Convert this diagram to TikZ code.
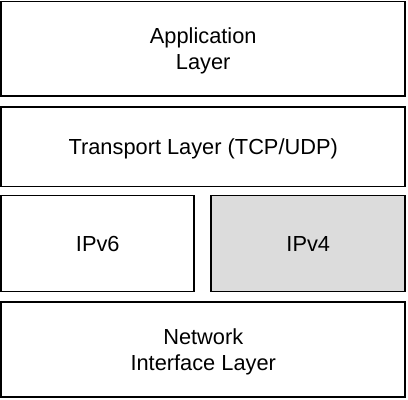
\documentclass[tikz,border=0pt]{standalone}
\usepackage{fontspec}
\setmainfont{Liberation Sans}
\usepackage{tikz}
\usetikzlibrary{positioning}
\definecolor{myline}{RGB}{0,0,0}
\definecolor{hdrgray}{RGB}{220,220,220}
\tikzset{
  layer/.style={rectangle, draw=myline, fill=white, line width=1.4pt,
    align=center, font=\fontsize{15.5}{18.5}\selectfont, inner sep=0pt,
    text depth=0pt},
  graylayer/.style={layer, fill=hdrgray}
}
\begin{document}
\begin{tikzpicture}[x=0.025cm, y=-0.025cm]
  \useasboundingbox (0,0) rectangle (408,400);

  % Upper layers
  \node[layer, minimum width=10.0875cm, minimum height=2.3625cm] (app) at (203.25, 48.75) {Application\\Layer};
  \node[layer, minimum width=10.0875cm, minimum height=1.9875cm] (transport) at (203.25, 146.75) {Transport Layer (TCP/UDP)};

  % Internet layer
  \node[layer, minimum width=4.8125cm, minimum height=2.4cm, text height=1.1em] (ipv6) at (97.75, 243.5) {IPv6};
  \node[graylayer, minimum width=4.8375cm, minimum height=2.4cm, text height=1.1em] (ipv4) at (308.25, 243.5) {IPv4};

  % Lowest layer
  \node[layer, minimum width=10.0875cm, minimum height=2.375cm] (netif) at (203.25, 349.2) {Network\\Interface Layer};
\end{tikzpicture}
\end{document}
